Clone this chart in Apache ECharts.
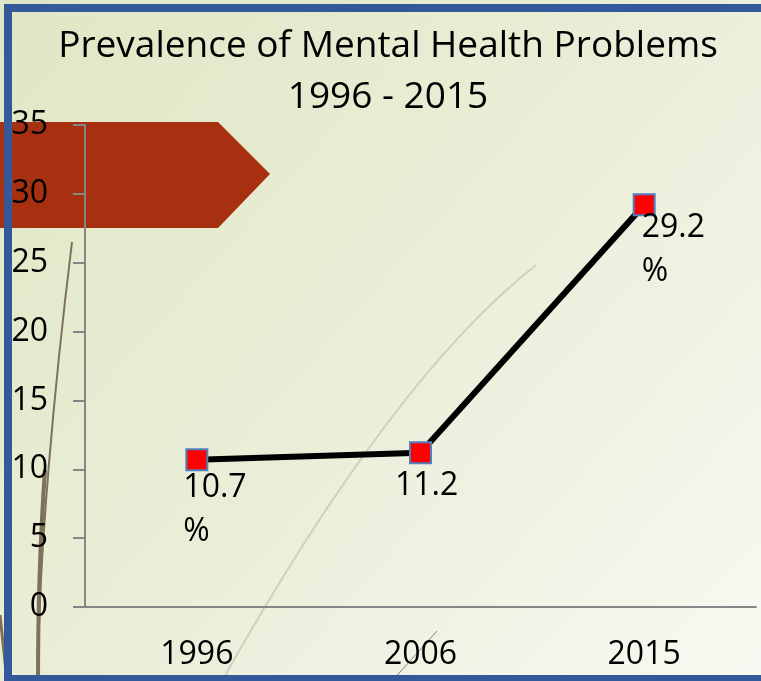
<!DOCTYPE html>
<html>
<head>
<meta charset="utf-8">
<script src="https://cdn.jsdelivr.net/npm/echarts@6/dist/echarts.min.js"></script>
<style>html,body{margin:0;padding:0;}#c{width:761px;height:681px;}</style>
</head>
<body>
<div id="c"></div>
<script>
const titleLines = ['Prevalence of Mental Health Problems', '1996 - 2015'];
const categories = ['1996', '2006', '2015'];
const values = [10.7, 11.2, 29.2];
const labelTexts = ['10.7\n%', '11.2', '29.2\n%'];
const yTicks = { min: 0, max: 35, interval: 5 };

const FONT = 'Open Sans';
const labelPos = [[-2, 18], [-14, 23], [9, 13]];

const chart = echarts.init(document.getElementById('c'), null, { renderer: 'canvas' });
chart.setOption({
  animation: false,
  backgroundColor: {
    type: 'linear', x: 0, y: 0, x2: 1, y2: 1,
    colorStops: [
      { offset: 0, color: '#E0E7C4' },
      { offset: 0.5, color: '#EAEED8' },
      { offset: 1, color: '#F8F9F2' }
    ]
  },
  title: {
    text: titleLines.join('\n'),
    left: 383,
    top: 16,
    textAlign: 'center',
    textStyle: { fontFamily: FONT, fontSize: 37, fontWeight: 'normal', color: '#000', lineHeight: 51 }
  },
  graphic: [
    { type: 'polygon', z: -50, shape: { points: [[0, 122], [218, 122], [270, 174], [218, 228], [0, 228]] }, style: { fill: '#A6300F' } },
    { type: 'bezierCurve', z: -40, shape: { x1: 72, y1: 242, x2: 38, y2: 681, cpx1: 55, cpy1: 380, cpx2: 38, cpy2: 560 }, style: { stroke: '#7D7259', lineWidth: 2, fill: null } },
    { type: 'bezierCurve', z: -40, shape: { x1: 45, y1: 470, x2: 38, y2: 681, cpx1: 40, cpy1: 540, cpx2: 38, cpy2: 600 }, style: { stroke: '#7D7259', lineWidth: 4, fill: null } },
    { type: 'line', z: -40, shape: { x1: 0, y1: 615, x2: 7, y2: 681 }, style: { stroke: '#7D7259', lineWidth: 3 } },
    { type: 'bezierCurve', z: -40, shape: { x1: 536, y1: 265, x2: 222, y2: 681, cpx1: 392, cpy1: 378 }, style: { stroke: '#CFD1C0', lineWidth: 2, fill: null } },
    { type: 'line', z: -40, shape: { x1: 437, y1: 631, x2: 392, y2: 681 }, style: { stroke: '#8A7F66', lineWidth: 1 } },
    { type: 'rect', z: 100, shape: { x: 4, y: 4, width: 8, height: 677 }, style: { fill: '#34599A' } },
    { type: 'rect', z: 100, shape: { x: 4, y: 4, width: 757, height: 8 }, style: { fill: '#34599A' } },
    { type: 'rect', z: 100, shape: { x: 4, y: 675, width: 757, height: 6 }, style: { fill: '#34599A' } }
  ],
  grid: { left: 85, right: 5, top: 125, bottom: 74, containLabel: false },
  xAxis: {
    type: 'category',
    data: categories,
    boundaryGap: true,
    axisLine: { lineStyle: { color: '#868686', width: 2 } },
    axisTick: { show: false },
    axisLabel: { margin: 32, fontFamily: FONT, fontSize: 32, color: '#000' },
    splitLine: { show: false }
  },
  yAxis: {
    type: 'value',
    min: yTicks.min, max: yTicks.max, interval: yTicks.interval,
    axisLine: { show: true, lineStyle: { color: '#868686', width: 2 } },
    axisTick: { show: true, length: 12, lineStyle: { color: '#868686', width: 2 } },
    axisLabel: { margin: 37, fontFamily: FONT, fontSize: 32, color: '#000' },
    splitLine: { show: false }
  },
  series: [{
    type: 'line',
    data: values.map((v, i) => ({
      value: v,
      label: {
        show: true,
        formatter: labelTexts[i],
        position: labelPos[i],
        align: 'left',
        verticalAlign: 'top',
        fontFamily: FONT, fontSize: 32, color: '#000', lineHeight: 44
      }
    })),
    symbol: 'rect',
    symbolSize: 21,
    itemStyle: { color: '#FF0000', borderColor: '#4F81BD', borderWidth: 2 },
    lineStyle: { color: '#000', width: 6 },
    z: 5
  }]
});
</script>
</body>
</html>
